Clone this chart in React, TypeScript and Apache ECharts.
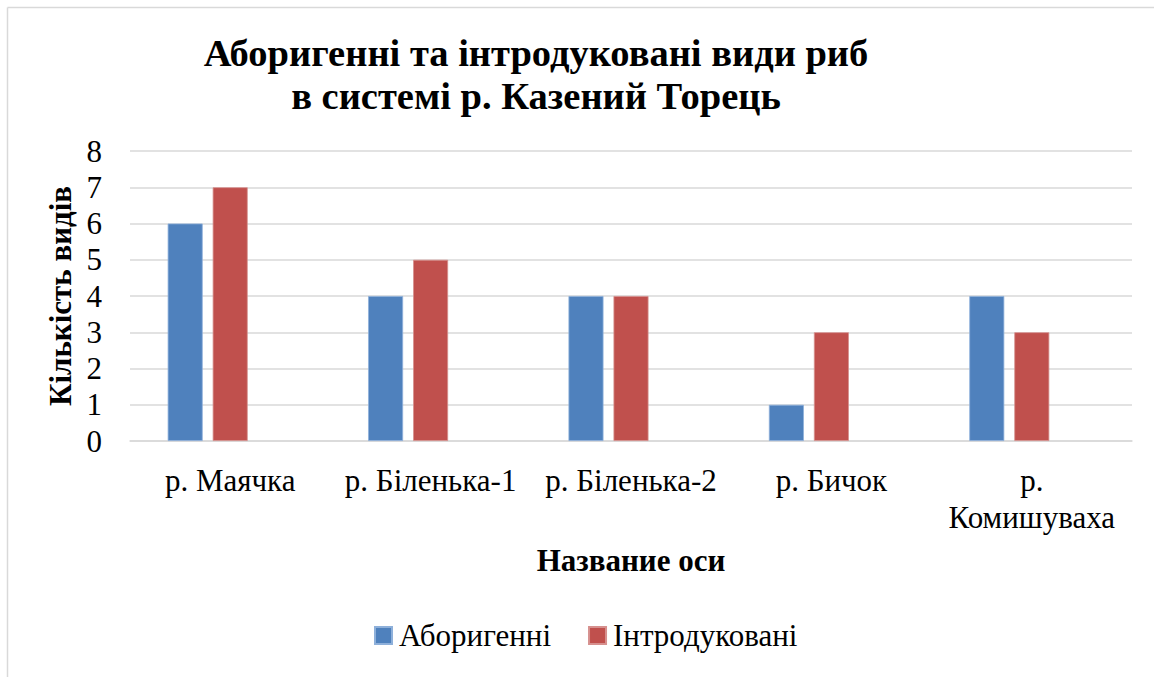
import React, { useEffect, useRef } from "react";
import * as echarts from "echarts";

const categories = ["р. Маячка", "р. Біленька-1", "р. Біленька-2", "р. Бичок", "р.\nКомишуваха"];
const nativeSpecies = [6, 4, 4, 1, 4];
const introducedSpecies = [7, 5, 4, 3, 3];
const emptySeries = ["-", "-", "-", "-", "-"];
const seriesNames = ["Аборигенні", "Інтродуковані"];
const yTicks = [0, 8, 1];
const titleLines = ["Аборигенні та інтродуковані види риб", "в системі р. Казений Торець"];

const FONT = "Liberation Serif";

export default function App() {
  const ref = useRef<HTMLDivElement>(null);
  useEffect(() => {
    const chart = echarts.init(ref.current!, null, { renderer: "svg" });
    chart.setOption({
      animation: false,
      backgroundColor: "#ffffff",
      textStyle: { fontFamily: FONT, color: "#000" },
      graphic: [
        { type: "line", shape: { x1: 7.5, y1: 7.5, x2: 1154, y2: 7.5 }, style: { stroke: "#d9d9d9", lineWidth: 1.5 } },
        { type: "line", shape: { x1: 7.5, y1: 7.5, x2: 7.5, y2: 677 }, style: { stroke: "#d9d9d9", lineWidth: 1.5 } },
        {
          type: "text", x: 536, y: 52.7,
          style: { text: titleLines[0], textAlign: "center", textVerticalAlign: "middle", font: `bold 38.5px ${FONT}`, fill: "#000" },
        },
        {
          type: "text", x: 536, y: 96.3,
          style: { text: titleLines[1], textAlign: "center", textVerticalAlign: "middle", font: `bold 38.5px ${FONT}`, fill: "#000" },
        },
      ],
      legend: {
        data: seriesNames,
        top: 620,
        left: 374,
        padding: 0,
        itemWidth: 17,
        itemHeight: 17,
        itemGap: 37,
        icon: "rect",
        textStyle: { fontFamily: FONT, fontSize: 31, color: "#000", padding: [0, 0, 0, 2] },
      },
      grid: { left: 130, right: 22, top: 151, bottom: 236, containLabel: false },
      xAxis: {
        type: "category",
        data: categories,
        name: "Название оси",
        nameLocation: "middle",
        nameGap: 104,
        nameTextStyle: { fontFamily: FONT, fontSize: 31, fontWeight: "bold", color: "#000" },
        axisLine: { show: true, lineStyle: { color: "#d9d9d9", width: 1.5 } },
        axisTick: { show: false },
        axisLabel: { fontFamily: FONT, fontSize: 31, color: "#000", margin: 21, lineHeight: 37, interval: 0 },
      },
      yAxis: {
        type: "value",
        min: yTicks[0],
        max: yTicks[1],
        interval: yTicks[2],
        name: "Кількість видів",
        nameLocation: "middle",
        nameGap: 54,
        nameTextStyle: { fontFamily: FONT, fontSize: 31, fontWeight: "bold", color: "#000" },
        axisLine: { show: false },
        axisTick: { show: false },
        axisLabel: { fontFamily: FONT, fontSize: 31, color: "#000", margin: 28 },
        splitLine: { lineStyle: { color: "#d9d9d9", width: 1.5 } },
      },
      series: [
        {
          name: seriesNames[0], type: "bar", data: nativeSpecies, barWidth: 35, barGap: "28.6%",
          itemStyle: { color: "#4f81bd", borderColor: "#8eb0da", borderWidth: 0.8 },
        },
        {
          name: seriesNames[1], type: "bar", data: introducedSpecies, barWidth: 35, barGap: "28.6%",
          itemStyle: { color: "#c0504d", borderColor: "#d6908e", borderWidth: 0.8 },
        },
        {
          name: "empty", type: "bar", data: emptySeries, barWidth: 35, barGap: "28.6%",
          itemStyle: { color: "#9bbb59" },
        },
      ],
    });
    return () => chart.dispose();
  }, []);
  return <div ref={ref} style={{ position: "fixed", left: 0, top: 0, width: 1154, height: 677 }} />;
}
